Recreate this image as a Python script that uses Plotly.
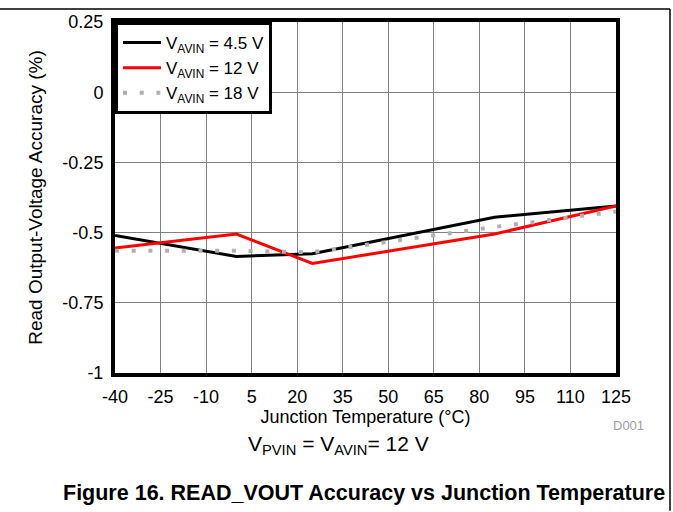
import plotly.graph_objects as go

temps = [-40, 0, 25, 85, 125]
acc_4v5 = [-0.51, -0.585, -0.575, -0.445, -0.405]
acc_12v = [-0.555, -0.505, -0.61, -0.505, -0.405]
acc_18v = [-0.565, -0.565, -0.57, -0.48, -0.425]

series_names = ["V<sub>AVIN</sub> = 4.5 V", "V<sub>AVIN</sub> = 12 V", "V<sub>AVIN</sub> = 18 V"]

x_ticks = [-40, -25, -10, 5, 20, 35, 50, 65, 80, 95, 110, 125]
y_ticks = [0.25, 0, -0.25, -0.5, -0.75, -1]
y_tick_text = ["0.25", "0", "-0.25", "-0.5", "-0.75", "-1"]

FONT = "Liberation Sans, Arial, sans-serif"

fig = go.Figure()
fig.add_trace(go.Scatter(x=temps, y=acc_4v5, mode="lines", name=series_names[0],
                         line=dict(color="black", width=3)))
fig.add_trace(go.Scatter(x=temps, y=acc_12v, mode="lines", name=series_names[1],
                         line=dict(color="#ff0000", width=3)))
fig.add_trace(go.Scatter(x=temps, y=acc_18v, mode="lines", name=series_names[2],
                         line=dict(color="#b0b0b0", width=4, dash="4px,12.7px")))

L, R, T, B = 115, 57, 19, 139
W, H = 673, 512
pw, ph = W - L - R, H - T - B

def px(x):
    return (x - L) / pw

def py(y):
    return (H - B - y) / ph

fig.update_layout(
    width=W, height=H,
    margin=dict(l=L, r=R, t=T, b=B),
    paper_bgcolor="white", plot_bgcolor="white",
    font=dict(family=FONT, size=18, color="black"),
    showlegend=True,
    legend=dict(x=0, y=1, xanchor="left", yanchor="top",
                bgcolor="white", bordercolor="black", borderwidth=3,
                font=dict(size=17), tracegroupgap=0, itemwidth=38,
                entrywidth=150),
    xaxis=dict(range=[-40, 125], tickvals=x_ticks, ticktext=[str(v) for v in x_ticks],
               showgrid=True, gridcolor="#808080", gridwidth=1,
               showline=True, linecolor="black", linewidth=4, mirror=True,
               ticks="outside", ticklen=4, tickcolor="rgba(0,0,0,0)",
               zeroline=False, tickfont=dict(size=18),
               title=dict(text="Junction Temperature (°C)", standoff=2, font=dict(size=18))),
    yaxis=dict(range=[-1, 0.25], tickvals=y_ticks, ticktext=y_tick_text,
               showgrid=True, gridcolor="#808080", gridwidth=1,
               showline=True, linecolor="black", linewidth=4, mirror=True,
               ticks="outside", ticklen=4, tickcolor="rgba(0,0,0,0)",
               zeroline=False, tickfont=dict(size=18),
               title=dict(text="Read Output-Voltage Accuracy (%)", standoff=16, font=dict(size=19))),
)

fig.add_annotation(x=px(628), y=py(426), xref="paper", yref="paper", showarrow=False,
                   xanchor="center", yanchor="middle",
                   text="D001", font=dict(size=13, color="#a0a0a0"))
fig.add_annotation(x=px(338), y=py(446), xref="paper", yref="paper", showarrow=False,
                   xanchor="center", yanchor="middle",
                   text="V<sub>PVIN</sub> = V<sub>AVIN</sub>= 12 V", font=dict(size=21))
fig.add_annotation(x=px(364), y=py(494), xref="paper", yref="paper", showarrow=False,
                   xanchor="center", yanchor="middle",
                   text="<b>Figure 16. READ_VOUT Accuracy vs Junction Temperature</b>",
                   font=dict(size=21.5))

fig.add_shape(type="line", xref="paper", yref="paper", x0=px(0), x1=px(670), y0=py(6), y1=py(6),
              line=dict(color="black", width=1.5))
fig.add_shape(type="line", xref="paper", yref="paper", x0=px(670), x1=px(670), y0=py(6), y1=py(512),
              line=dict(color="black", width=1.5))

fig.write_html("out.html", config={"displayModeBar": False},
               post_script="document.body.style.margin='0';")
